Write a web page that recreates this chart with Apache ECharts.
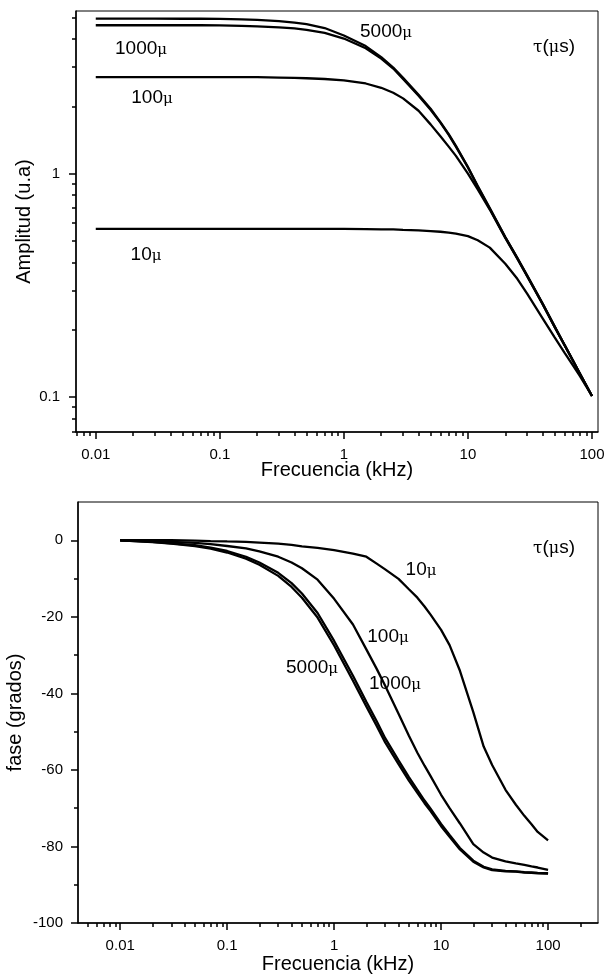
<!DOCTYPE html>
<html>
<head>
<meta charset="utf-8">
<script src="https://cdn.jsdelivr.net/npm/echarts@6/dist/echarts.min.js"></script>
<style>
  html, body { margin: 0; padding: 0; background: #fff; }
  #main { width: 604px; height: 975px; }
</style>
</head>
<body>
<div id="main"></div>
<script>
// frecuencias (kHz)
var freq = [0.01, 0.02, 0.03, 0.05, 0.07, 0.1, 0.15, 0.2, 0.3, 0.4,
  0.5, 0.7, 1, 1.5, 2, 2.5, 3, 4, 5, 6,
  7, 8, 10, 12, 15, 20, 25, 30, 40, 50,
  60, 70, 80, 100];

// amplitud (u.a) por tau
var amp5000 = [4.94, 4.94, 4.94, 4.93, 4.93, 4.92, 4.90, 4.87, 4.81, 4.74,
  4.66, 4.48, 4.15, 3.72, 3.32, 2.98, 2.68, 2.25, 1.95, 1.70,
  1.50, 1.33, 1.07, 0.88, 0.70, 0.52, 0.42, 0.35, 0.262, 0.207,
  0.171, 0.146, 0.127, 0.101];
var amp1000 = [4.61, 4.61, 4.61, 4.61, 4.61, 4.60, 4.58, 4.56, 4.51, 4.46,
  4.40, 4.26, 4.02, 3.64, 3.27, 2.95, 2.65, 2.23, 1.93, 1.69,
  1.49, 1.32, 1.065, 0.875, 0.696, 0.518, 0.418, 0.349, 0.261, 0.206,
  0.171, 0.146, 0.127, 0.101];
var amp100 = [2.70, 2.70, 2.70, 2.70, 2.70, 2.70, 2.70, 2.70, 2.69, 2.68,
  2.67, 2.65, 2.61, 2.53, 2.42, 2.30, 2.17, 1.91, 1.66, 1.47,
  1.32, 1.20, 1.00, 0.85, 0.69, 0.515, 0.416, 0.347, 0.260, 0.206,
  0.171, 0.146, 0.127, 0.101];
var amp10 = [0.565, 0.565, 0.565, 0.565, 0.565, 0.565, 0.565, 0.565, 0.565, 0.565,
  0.565, 0.565, 0.565, 0.564, 0.563, 0.562, 0.560, 0.557, 0.553, 0.549,
  0.544, 0.538, 0.525, 0.503, 0.466, 0.395, 0.338, 0.29, 0.225, 0.185,
  0.158, 0.139, 0.124, 0.101];

// fase (grados) por tau
var fase5000 = [0, -0.5, -0.9, -1.5, -2.2, -3.2, -4.8, -6.4, -9.3, -12.2,
  -15.0, -20.2, -27.5, -36.7, -43.4, -48.5, -52.8, -58.5, -62.8, -66.0,
  -68.7, -70.8, -74.7, -77.5, -80.8, -84.0, -85.5, -86.2, -86.5, -86.6,
  -86.8, -86.9, -87.0, -87.1];
var fase1000 = [0, -0.4, -0.8, -1.3, -1.9, -2.8, -4.3, -5.8, -8.5, -11.2,
  -13.9, -19.0, -26.3, -35.4, -42.2, -47.3, -51.7, -57.5, -61.9, -65.2,
  -68.0, -70.2, -74.1, -77.0, -80.4, -83.7, -85.3, -86.0, -86.4, -86.5,
  -86.7, -86.8, -86.9, -87.0];
var fase100 = [0, -0.3, -0.4, -0.7, -1.0, -1.5, -2.1, -2.9, -4.3, -5.8,
  -7.3, -10.3, -15.3, -22.0, -28.5, -33.6, -38.0, -45.3, -51.1, -55.5,
  -58.9, -61.7, -66.5, -70.0, -74.0, -79.4, -81.6, -82.9, -83.9, -84.4,
  -84.8, -85.2, -85.5, -86.1];
var fase10 = [0, 0, 0, -0.1, -0.2, -0.3, -0.4, -0.6, -0.9, -1.2,
  -1.6, -2.0, -2.6, -3.5, -4.3, -6.1, -7.6, -10.1, -12.8, -15.0,
  -17.3, -19.5, -23.4, -27.4, -34.1, -44.9, -53.9, -58.7, -65.2, -69.1,
  -72.0, -74.2, -76.2, -78.4];

// ticks
var xMajor = [0.01, 0.1, 1, 10, 100];
var xMinorTop = [0.007, 0.008, 0.009, 0.02, 0.03, 0.04, 0.05, 0.06, 0.07, 0.08, 0.09,
  0.2, 0.3, 0.4, 0.5, 0.6, 0.7, 0.8, 0.9, 2, 3, 4, 5, 6, 7, 8, 9,
  20, 30, 40, 50, 60, 70, 80, 90];
var xMinorBottom = [0.005, 0.006, 0.007, 0.008, 0.009, 0.02, 0.03, 0.04, 0.05, 0.06, 0.07, 0.08, 0.09,
  0.2, 0.3, 0.4, 0.5, 0.6, 0.7, 0.8, 0.9, 2, 3, 4, 5, 6, 7, 8, 9,
  20, 30, 40, 50, 60, 70, 80, 90, 200];
var ampMajor = [0.1, 1];
var ampMinor = [0.07, 0.08, 0.09, 0.2, 0.3, 0.4, 0.5, 0.6, 0.7, 0.8, 0.9, 2, 3, 4, 5];
var faseMajor = [-100, -80, -60, -40, -20, 0];
var faseMinor = [-90, -70, -50, -30, -10];

function pairs(xs, ys) {
  return xs.map(function (x, i) { return [x, ys[i]]; });
}

var FONT = '"Liberation Sans", Arial, sans-serif';
var black = '#000';

function majorAxis(opt) {
  return Object.assign({
    axisLine: { show: true, onZero: false, lineStyle: { color: black, width: 1.5 } },
    axisTick: { show: true, inside: false, length: 7, lineStyle: { color: black, width: 1.5 }, customValues: opt.ticks },
    axisLabel: { show: true, color: black, fontSize: 15, fontFamily: FONT, margin: opt.margin, customValues: opt.ticks },
    splitLine: { show: false },
    nameLocation: 'middle',
    nameMoveOverlap: false,
    nameTextStyle: { color: black, fontSize: 20, fontFamily: FONT }
  }, opt.extra);
}
function minorAxis(opt) {
  return Object.assign({
    axisLine: { show: false, onZero: false },
    axisTick: { show: true, inside: false, length: 4, lineStyle: { color: black, width: 1.5 }, customValues: opt.ticks },
    axisLabel: { show: false },
    splitLine: { show: false }
  }, opt.extra);
}

var myChart = echarts.init(document.getElementById('main'), null, { renderer: 'canvas' });

var lineStyle = { color: black, width: 2.3 };
function serie(name, xi, yi, data) {
  return {
    name: name,
    type: 'line',
    xAxisIndex: xi,
    yAxisIndex: yi,
    data: data,
    showSymbol: false,
    symbol: 'none',
    smooth: false,
    lineStyle: lineStyle,
    silent: true
  };
}

function muText(num, x, y) {
  return {
    type: 'text',
    x: x,
    y: y,
    style: {
      text: '{a|' + num + '}{m|μ}',
      align: 'center',
      verticalAlign: 'middle',
      rich: {
        a: { fontSize: 19, fontFamily: FONT, fill: black, verticalAlign: 'bottom', lineHeight: 20 },
        m: { fontSize: 15, fontFamily: '"DejaVu Serif", serif', fill: black, verticalAlign: 'bottom', lineHeight: 20 }
      }
    }
  };
}
function tauText(x, y) {
  return {
    type: 'text',
    x: x,
    y: y,
    style: {
      text: '{t|τ}{a|(}{m|μ}{a|s)}',
      align: 'center',
      verticalAlign: 'middle',
      rich: {
        t: { fontSize: 17, fontFamily: '"DejaVu Serif", serif', fill: black, verticalAlign: 'bottom', lineHeight: 20 },
        a: { fontSize: 19, fontFamily: FONT, fill: black, verticalAlign: 'bottom', lineHeight: 20 },
        m: { fontSize: 16, fontFamily: '"DejaVu Serif", serif', fill: black, verticalAlign: 'bottom', lineHeight: 20 }
      }
    }
  };
}

option = {
  backgroundColor: '#fff',
  animation: false,
  grid: [
    { left: 76, top: 11, width: 522, height: 421, show: true, borderColor: black, borderWidth: 1, backgroundColor: 'transparent', containLabel: false, outerBoundsMode: 'none' },
    { left: 78, top: 502, width: 520, height: 421, show: true, borderColor: black, borderWidth: 1, backgroundColor: 'transparent', containLabel: false, outerBoundsMode: 'none' }
  ],
  xAxis: [
    majorAxis({ ticks: xMajor, margin: 15, extra: { type: 'log', gridIndex: 0, position: 'bottom', min: 0.00693, max: 111.8, name: 'Frecuencia (kHz)', nameGap: 28 } }),
    minorAxis({ ticks: xMinorTop, extra: { type: 'log', gridIndex: 0, position: 'bottom', min: 0.00693, max: 111.8 } }),
    majorAxis({ ticks: xMajor, margin: 15, extra: { type: 'log', gridIndex: 1, position: 'bottom', min: 0.00403, max: 293, name: 'Frecuencia (kHz)', nameGap: 31 } }),
    minorAxis({ ticks: xMinorBottom, extra: { type: 'log', gridIndex: 1, position: 'bottom', min: 0.00403, max: 293 } })
  ],
  yAxis: [
    majorAxis({ ticks: ampMajor, margin: 16, extra: { type: 'log', gridIndex: 0, position: 'left', min: 0.0697, max: 5.34, name: 'Amplitud (u.a)', nameGap: 42 } }),
    minorAxis({ ticks: ampMinor, extra: { type: 'log', gridIndex: 0, position: 'left', min: 0.0697, max: 5.34 } }),
    majorAxis({ ticks: faseMajor, margin: 15, extra: { type: 'value', gridIndex: 1, position: 'left', min: -100, max: 10, name: 'fase (grados)', nameGap: 53 } }),
    minorAxis({ ticks: faseMinor, extra: { type: 'value', gridIndex: 1, position: 'left', min: -100, max: 10 } })
  ],
  graphic: [
    muText('5000', 386, 31),
    muText('1000', 141, 48),
    muText('100', 152, 97),
    muText('10', 146, 254),
    tauText(554, 46),
    muText('10', 421, 569),
    muText('100', 388, 636),
    muText('1000', 395, 683),
    muText('5000', 312, 667),
    tauText(554, 547)
  ],
  series: [
    serie('5000', 0, 0, pairs(freq, amp5000)),
    serie('1000', 0, 0, pairs(freq, amp1000)),
    serie('100', 0, 0, pairs(freq, amp100)),
    serie('10', 0, 0, pairs(freq, amp10)),
    serie('5000', 2, 2, pairs(freq, fase5000)),
    serie('1000', 2, 2, pairs(freq, fase1000)),
    serie('100', 2, 2, pairs(freq, fase100)),
    serie('10', 2, 2, pairs(freq, fase10))
  ]
};

myChart.setOption(option);
</script>
</body>
</html>
